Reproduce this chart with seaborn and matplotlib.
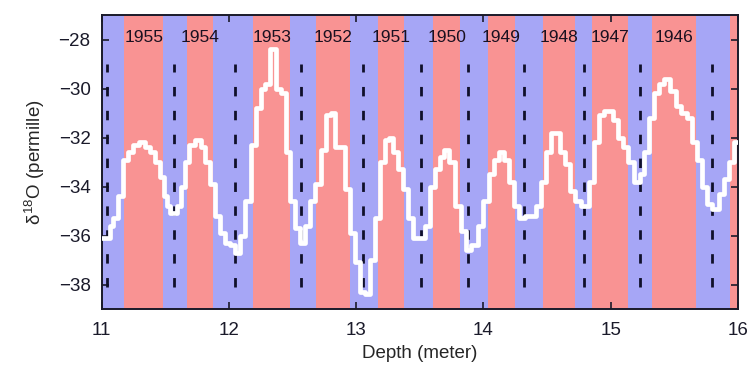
#!/usr/bin/env python3

import matplotlib
import pandas as pd
import seaborn as sns
from matplotlib import pyplot as plt

matplotlib.use("Agg")

# step edges (m) and d18O values of the core record
depth = [
    11.00, 11.065, 11.09, 11.13, 11.17, 11.21, 11.25, 11.29, 11.34, 11.38,
    11.42, 11.46, 11.49, 11.51, 11.54, 11.59, 11.62, 11.655, 11.69, 11.73,
    11.78, 11.81, 11.85, 11.89, 11.93, 11.97, 12.01, 12.05, 12.09, 12.13,
    12.17, 12.21, 12.25, 12.28, 12.32, 12.37, 12.41, 12.45, 12.48, 12.52,
    12.56, 12.60, 12.64, 12.68, 12.72, 12.76, 12.80, 12.83, 12.87, 12.91,
    12.95, 12.99, 13.03, 13.07, 13.11, 13.15, 13.19, 13.23, 13.26, 13.29,
    13.33, 13.37, 13.41, 13.45, 13.54, 13.58, 13.62, 13.66, 13.69, 13.73,
    13.78, 13.82, 13.86, 13.90, 13.96, 14.00, 14.04, 14.08, 14.12, 14.16,
    14.20, 14.24, 14.28, 14.33, 14.41, 14.45, 14.49, 14.53, 14.60, 14.64,
    14.68, 14.72, 14.77, 14.83, 14.87, 14.91, 14.95, 15.02, 15.06, 15.10,
    15.14, 15.18, 15.23, 15.26, 15.30, 15.34, 15.38, 15.42, 15.47, 15.51,
    15.55, 15.60, 15.64, 15.68, 15.72, 15.76, 15.80, 15.85, 15.89, 15.93,
    15.97, 16.00,
]
d18o = [
    -36.1, -35.6, -35.3, -34.4, -32.9, -32.6, -32.3, -32.2, -32.4, -32.6,
    -33.0, -33.6, -34.4, -34.8, -35.1, -34.8, -34.0, -33.0, -32.3, -32.1,
    -32.4, -33.0, -33.9, -35.2, -35.9, -36.3, -36.4, -36.7, -36.0, -34.6,
    -32.3, -30.8, -30.0, -29.8, -28.4, -30.0, -30.2, -32.6, -34.6, -35.7,
    -36.3, -35.6, -34.6, -33.9, -32.5, -31.1, -31.0, -32.4, -32.4, -34.1,
    -35.9, -37.1, -38.3, -38.4, -37.0, -35.3, -33.0, -32.1, -32.0, -32.6,
    -33.3, -34.1, -35.3, -36.1, -35.6, -34.0, -33.3, -32.8, -32.5, -33.0,
    -34.8, -35.8, -36.6, -36.4, -35.6, -34.6, -33.5, -32.9, -32.6, -32.9,
    -33.8, -34.8, -35.3, -35.2, -34.8, -33.8, -32.6, -31.8, -32.6, -33.1,
    -34.2, -34.6, -34.8, -33.8, -32.2, -31.1, -30.9, -31.3, -32.0, -32.4,
    -33.0, -33.8, -33.5, -32.6, -31.2, -30.2, -29.8, -29.6, -30.1, -30.7,
    -31.0, -31.2, -32.2, -32.9, -34.0, -34.7, -34.9, -34.3, -33.7, -33.0,
    -32.2, -32.2,
]

# season shading: edges alternate winter (blue) / summer (red), starting blue
band_edges = [
    11.0, 11.178, 11.484, 11.668, 11.877, 12.192, 12.480, 12.685, 12.952,
    13.175, 13.379, 13.607, 13.816, 14.034, 14.249, 14.472, 14.716, 14.857,
    15.140, 15.323, 15.672, 15.939, 16.0,
]
years = [1955, 1954, 1953, 1952, 1951, 1950, 1949, 1948, 1947, 1946]

# dashed markers of the winter minima
winter_marks = [11.044, 11.568, 12.048, 12.567, 13.057, 13.511, 13.882,
                14.315, 14.793, 15.233, 15.80]

BLUE = "#a6a6f6"
RED = "#f99393"

sns.set_style("ticks")
plt.rcParams['font.family'] = ['Liberation Sans', 'DejaVu Sans']
plt.rcParams['mathtext.fontset'] = 'custom'
plt.rcParams['mathtext.rm'] = 'Liberation Sans'
plt.rcParams['mathtext.it'] = 'Liberation Sans'


def main():
    fig = plt.figure(figsize=(7.53, 3.67), dpi=100)
    ax = fig.add_axes([0.135, 0.158, 0.845, 0.801])

    for i in range(len(band_edges) - 1):
        color = BLUE if i % 2 == 0 else RED
        ax.axvspan(band_edges[i], band_edges[i + 1], color=color, lw=0,
                   zorder=0)

    red_starts = band_edges[1::2]
    red_ends = band_edges[2::2]
    for year, a, b in zip(years, red_starts, red_ends):
        ax.text((a + b) / 2, -27.9, str(year), ha="center", va="center",
                fontsize=12.5, color="#1a1020", zorder=4)

    ax.vlines(winter_marks, -38.1, -29.0, colors="#10102a", lw=2,
              linestyles=(0, (3.4, 5.2)), zorder=2)

    df = pd.DataFrame({"depth": depth, "d18o": d18o})
    sns.lineplot(data=df, x="depth", y="d18o", ax=ax, color="white", lw=3.4,
                 drawstyle="steps-post", estimator=None, zorder=3)

    ax.set_xlim(11, 16)
    ax.set_ylim(-39, -27)
    ax.set_xticks([11, 12, 13, 14, 15, 16])
    ax.set_yticks([-28, -30, -32, -34, -36, -38])
    ax.set_yticklabels(["\u221228", "\u221230", "\u221232", "\u221234",
                        "\u221236", "\u221238"])
    ax.tick_params(direction="in", length=5, width=1.2, labelsize=13.5,
                   top=True, right=True, colors="#1a1a2a")
    ax.tick_params(axis="x", pad=9)
    ax.tick_params(axis="y", pad=8)
    for spine in ax.spines.values():
        spine.set_linewidth(1.4)
        spine.set_color("#1a1a2a")
        spine.set_visible(True)

    ax.set_xlabel("Depth (meter)", fontsize=13.5, labelpad=5)
    ax.set_ylabel(r"$\delta^{18}$O (permille)", fontsize=13.5, labelpad=8)

    fig.savefig("out.png", dpi=100)


if __name__ == "__main__":
    main()
